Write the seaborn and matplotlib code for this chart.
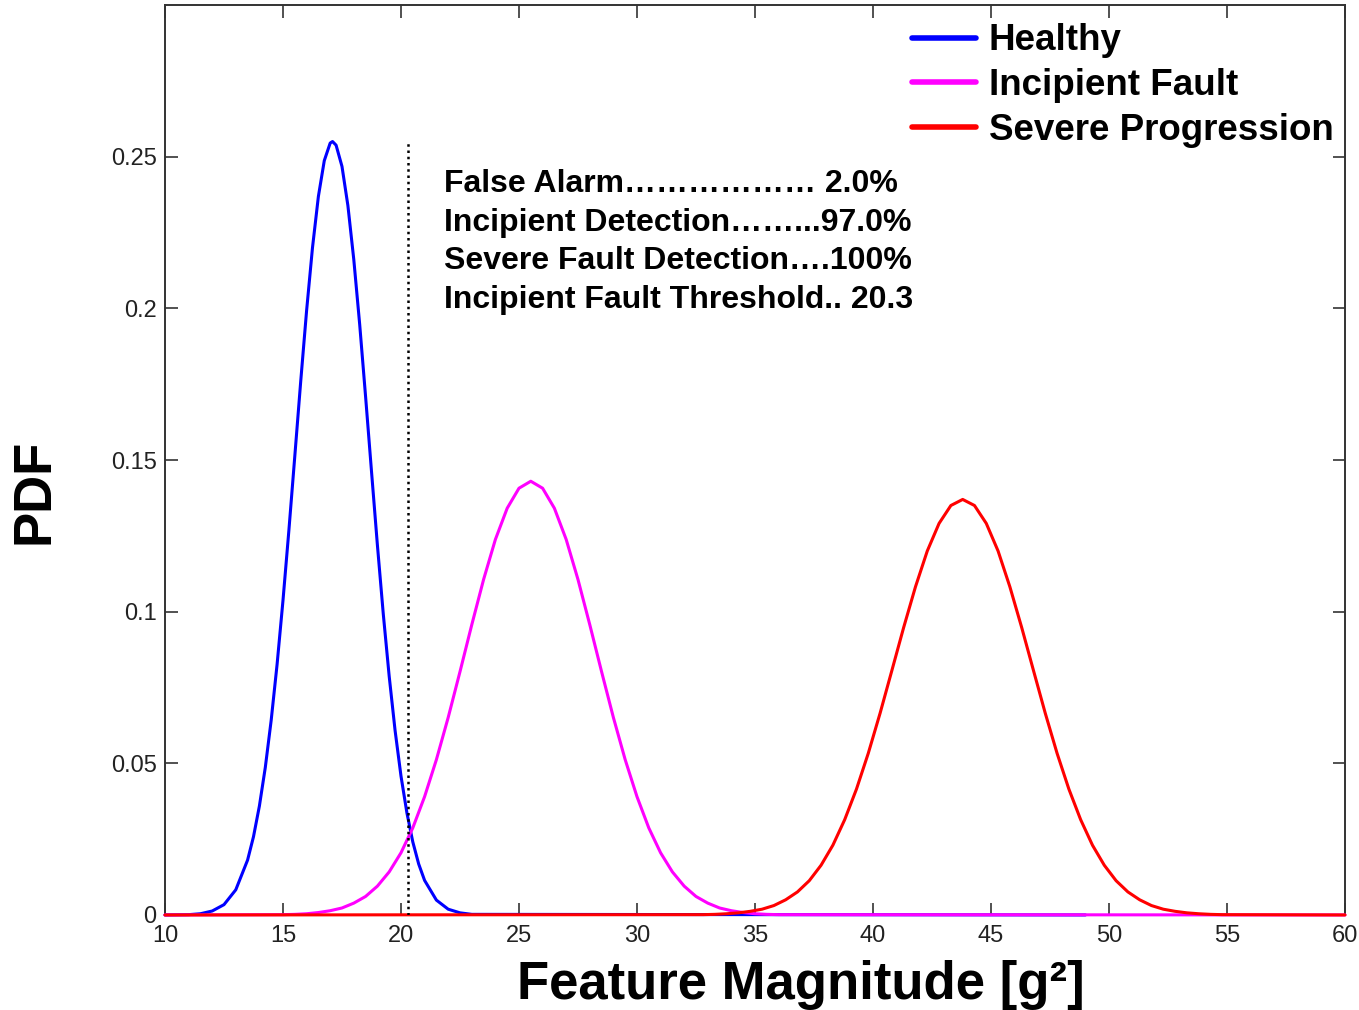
import matplotlib
matplotlib.use("Agg")
import matplotlib.pyplot as plt
import seaborn as sns

# curve samples
healthy_x = [10, 11, 11.5, 12, 12.5, 13, 13.5, 13.75, 14, 14.25, 14.5, 14.75, 15, 15.25,
             15.5, 15.75, 16, 16.25, 16.5, 16.75, 17, 17.1, 17.25, 17.5, 17.75, 18, 18.25,
             18.5, 18.75, 19, 19.25, 19.5, 19.75, 20, 20.25, 20.5, 20.75, 21, 21.5, 22,
             22.5, 23, 49]
healthy_y = [0, 0.0001, 0.0004, 0.0013, 0.0034, 0.0083, 0.0181, 0.0258, 0.0359, 0.0486,
             0.0642, 0.0826, 0.1037, 0.1268, 0.1512, 0.1758, 0.1992, 0.2200, 0.2369,
             0.2487, 0.2545, 0.2550, 0.2538, 0.2468, 0.2339, 0.2161, 0.1947, 0.1709,
             0.1463, 0.1220, 0.0992, 0.0787, 0.0608, 0.0458, 0.0337, 0.0241, 0.0168,
             0.0114, 0.0049, 0.0019, 0.0007, 0.0002, 0]

incipient_x = [10, 15, 15.5, 16, 16.5, 17, 17.5, 18, 18.5, 19, 19.5, 20, 20.5, 21, 21.5,
               22, 22.5, 23, 23.5, 24, 24.5, 25, 25.5, 26, 26.5, 27, 27.5, 28, 28.5, 29,
               29.5, 30, 30.5, 31, 31.5, 32, 32.5, 33, 33.5, 34, 34.5, 35, 35.5, 36, 60]
incipient_y = [0, 0.0001, 0.0002, 0.0004, 0.0008, 0.0014, 0.0023, 0.0039, 0.0061, 0.0095,
               0.0142, 0.0205, 0.0287, 0.0390, 0.0512, 0.0651, 0.0802, 0.0957, 0.1106,
               0.1238, 0.1341, 0.1407, 0.1430, 0.1407, 0.1341, 0.1238, 0.1106, 0.0957,
               0.0802, 0.0651, 0.0512, 0.0390, 0.0287, 0.0205, 0.0142, 0.0095, 0.0061,
               0.0039, 0.0023, 0.0014, 0.0008, 0.0004, 0.0002, 0.0001, 0]

severe_x = [10, 32.8, 33.3, 33.8, 34.3, 34.8, 35.3, 35.8, 36.3, 36.8, 37.3, 37.8, 38.3,
            38.8, 39.3, 39.8, 40.3, 40.8, 41.3, 41.8, 42.3, 42.8, 43.3, 43.8, 44.3, 44.8,
            45.3, 45.8, 46.3, 46.8, 47.3, 47.8, 48.3, 48.8, 49.3, 49.8, 50.3, 50.8, 51.3,
            51.8, 52.3, 52.8, 53.3, 53.8, 54.3, 54.8, 60]
severe_y = [0, 0.0001, 0.0002, 0.0004, 0.0007, 0.0012, 0.0019, 0.0031, 0.0050, 0.0076,
            0.0113, 0.0164, 0.0230, 0.0314, 0.0415, 0.0533, 0.0665, 0.0806, 0.0948,
            0.1082, 0.1200, 0.1291, 0.1350, 0.1370, 0.1350, 0.1291, 0.1200, 0.1082,
            0.0948, 0.0806, 0.0665, 0.0533, 0.0415, 0.0314, 0.0230, 0.0164, 0.0113,
            0.0076, 0.0050, 0.0031, 0.0019, 0.0012, 0.0007, 0.0004, 0.0002, 0.0001, 0]

threshold = 20.3
threshold_top = 0.255

x_ticks = [10, 15, 20, 25, 30, 35, 40, 45, 50, 55, 60]
y_ticks = [0, 0.05, 0.1, 0.15, 0.2, 0.25]
y_tick_labels = ["0", "0.05", "0.1", "0.15", "0.2", "0.25"]

stats_lines = [
    "False Alarm……………… 2.0%",
    "Incipient Detection……...97.0%",
    "Severe Fault Detection….100%",
    "Incipient Fault Threshold.. 20.3",
]

sns.set_style("ticks")
plt.rcParams["font.family"] = ["Liberation Sans", "DejaVu Sans"]
plt.rcParams["text.color"] = "black"

fig = plt.figure(figsize=(13.59, 10.1), dpi=100)
ax = fig.add_axes([0.1214, 0.0941, 0.8683, 0.9009])

kw = dict(lw=2.2, ax=ax, zorder=3, clip_on=False, solid_joinstyle="round")
sns.lineplot(x=healthy_x, y=healthy_y, color="#0000ff", label="Healthy", **kw)
sns.lineplot(x=incipient_x, y=incipient_y, color="#ff00ff", label="Incipient Fault", **kw)
sns.lineplot(x=severe_x, y=severe_y, color="#ff0000", label="Severe Progression", **kw)
ax.plot([threshold, threshold], [0, threshold_top], color="black", ls=(0, (1, 1.5)),
        lw=1.8, zorder=4)

ax.set_xlim(10, 60)
ax.set_ylim(0, 0.3)
ax.set_xticks(x_ticks)
ax.set_xticklabels([str(t) for t in x_ticks])
ax.set_yticks(y_ticks)
ax.set_yticklabels(y_tick_labels)
ax.tick_params(direction="in", length=9, width=1.2, color="#333333", labelcolor="#222222",
               labelsize=17, top=True, right=True)
ax.tick_params(axis="x", pad=7)
ax.tick_params(axis="y", pad=6)
for s in ax.spines.values():
    s.set_color("#333333")
    s.set_linewidth(1.4)

ax.set_xlabel("Feature Magnitude [g²]", fontsize=38, fontweight="bold", va="center",
              color="black")
ax.xaxis.set_label_coords(0.539, -0.077)
ax.set_ylabel("PDF", fontsize=38, fontweight="bold", va="center", color="black")
ax.yaxis.set_label_coords(-0.111, 0.466)

for i, line in enumerate(stats_lines):
    ax.text(0.2364, 0.8033 - i * 0.0425, line, transform=ax.transAxes, fontsize=23,
            fontweight="bold", va="center", ha="left", color="black")

leg = ax.legend(loc="upper right", bbox_to_anchor=(1.006, 1.0), frameon=False,
                handlelength=1.75, handletextpad=0.35, labelspacing=0.26, borderpad=0.2,
                borderaxespad=0.3, prop={"weight": "bold", "size": 26.5})
for h in leg.get_lines():
    h.set_linewidth(4)
for t in leg.get_texts():
    t.set_color("black")

fig.savefig("out.png", dpi=100, facecolor="white")
